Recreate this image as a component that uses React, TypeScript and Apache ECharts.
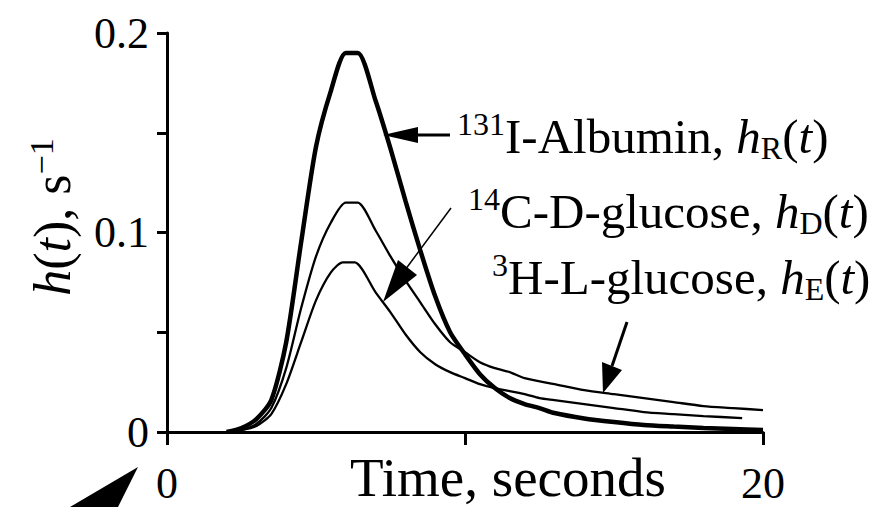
import React, { useEffect, useRef } from 'react';
import * as echarts from 'echarts';

// Time (s), h(t) (1/s)
const albuminR: [number, number][] = [
  [2.0, 0], [2.5, 0.002], [3.0, 0.0065], [3.5, 0.016], [4.0, 0.045], [4.5, 0.095],
  [5.0, 0.143], [5.5, 0.171], [6.0, 0.19], [6.4, 0.19], [7.0, 0.166], [7.5, 0.142],
  [8.0, 0.116], [8.5, 0.091], [9.0, 0.068], [9.5, 0.05], [10.0, 0.039], [10.5, 0.029],
  [11.0, 0.022], [11.5, 0.017], [12.0, 0.014], [12.5, 0.012], [13.0, 0.0095],
  [14.0, 0.0068], [15.0, 0.005], [16.0, 0.0035], [17.0, 0.0027], [18.0, 0.002],
  [19.0, 0.0015], [20.0, 0.001],
];
const dGlucoseD: [number, number][] = [
  [2.0, 0], [2.5, 0.001], [3.0, 0.003], [3.5, 0.009], [4.0, 0.024], [4.5, 0.045],
  [5.0, 0.066], [5.5, 0.08], [5.9, 0.085], [6.3, 0.085], [7.0, 0.07], [7.5, 0.06],
  [8.0, 0.049], [8.5, 0.04], [9.0, 0.034], [9.5, 0.03], [10.0, 0.027], [10.5, 0.024],
  [11.0, 0.022], [12.0, 0.019], [12.5, 0.017], [13.0, 0.016], [14.0, 0.014],
  [15.0, 0.012], [16.0, 0.01], [17.0, 0.009], [18.0, 0.008], [19.3, 0.007],
];
const lGlucoseE: [number, number][] = [
  [2.0, 0], [2.5, 0.001], [3.0, 0.004], [3.5, 0.012], [4.0, 0.032], [4.5, 0.062],
  [5.0, 0.088], [5.5, 0.105], [6.0, 0.115], [6.4, 0.115], [7.0, 0.101], [7.5, 0.088],
  [8.0, 0.076], [8.5, 0.065], [9.0, 0.054], [9.5, 0.045], [10.0, 0.04], [10.5, 0.035],
  [11.0, 0.032], [11.5, 0.03], [12.0, 0.027], [13.0, 0.024], [14.0, 0.021],
  [15.0, 0.019], [16.0, 0.017], [17.0, 0.015], [18.0, 0.013], [19.0, 0.012], [20.0, 0.011],
];

const xTickValues = [0, 20];
const xTickLabels = ['0', '20'];
const yTickValues = [0, 0.1, 0.2];
const yTickLabels = ['0', '0.1', '0.2'];

const FONT = "'Liberation Serif', 'Times New Roman', serif";

const rich = (size: number, supSize: number) => ({
  n: { fontSize: size, fontFamily: FONT, color: '#000', lineHeight: 56 },
  i: { fontSize: size, fontFamily: FONT, fontStyle: 'italic', color: '#000', lineHeight: 56 },
  sup: { fontSize: supSize, fontFamily: FONT, color: '#000', verticalAlign: 'top', lineHeight: 24 },
  sub: { fontSize: 32, fontFamily: FONT, color: '#000', verticalAlign: 'bottom', lineHeight: 22 },
});

const pick = (vals: number[], labels: string[]) => (v: number) => {
  const k = vals.findIndex((u) => Math.abs(u - v) < 1e-9);
  return k >= 0 ? labels[k] : '';
};

export default function App() {
  const ref = useRef<HTMLDivElement>(null);
  useEffect(() => {
    if (!ref.current) return;
    const chart = echarts.init(ref.current, undefined, { renderer: 'svg' });
    const lineStyleBase = { color: '#000', width: 2.3 };
    chart.setOption({
      animation: false,
      backgroundColor: '#fff',
      textStyle: { fontFamily: FONT },
      grid: { left: 167, right: 121, top: 33, bottom: 75 },
      xAxis: {
        type: 'value', min: 0, max: 20, interval: 10,
        axisLine: { lineStyle: { color: '#000', width: 3 } },
        axisTick: { length: 13, lineStyle: { color: '#000', width: 3 } },
        axisLabel: {
          formatter: pick(xTickValues, xTickLabels), fontSize: 44, lineHeight: 36, fontFamily: FONT,
          color: '#000', margin: 33, showMinLabel: true, showMaxLabel: true,
        },
        splitLine: { show: false },
      },
      yAxis: {
        type: 'value', min: 0, max: 0.2, interval: 0.05,
        axisLine: { show: true, lineStyle: { color: '#000', width: 3 } },
        axisTick: { show: true, length: 10, lineStyle: { color: '#000', width: 3 } },
        axisLabel: {
          formatter: pick(yTickValues, yTickLabels), fontSize: 44, fontFamily: FONT,
          color: '#000', margin: 18,
        },
        splitLine: { show: false },
      },
      series: [
        { type: 'line', name: 'hE', data: lGlucoseE, showSymbol: false, smooth: 0.25, lineStyle: lineStyleBase },
        { type: 'line', name: 'hD', data: dGlucoseD, showSymbol: false, smooth: 0.25, lineStyle: lineStyleBase },
        { type: 'line', name: 'hR', data: albuminR, showSymbol: false, smooth: 0.25, lineStyle: { color: '#000', width: 4.5 } },
      ],
      graphic: [
        // y axis name
        {
          type: 'text', x: 52, y: 217, rotation: Math.PI / 2,
          style: { text: '{i|h}{n|(}{i|t}{n|), s}{sup|\u22121}', rich: rich(52, 34), align: 'center', verticalAlign: 'middle' },
        },
        // x axis name
        {
          type: 'text', x: 508, y: 477,
          style: { text: 'Time, seconds', fontSize: 55, fontFamily: FONT, fill: '#000', align: 'center', verticalAlign: 'middle' },
        },
        // labels
        {
          type: 'text', x: 457, y: 136,
          style: { text: '{sup|131}{n|I-Albumin, }{i|h}{sub|R}{n|(}{i|t}{n|)}', rich: rich(49, 32), align: 'left', verticalAlign: 'middle' },
        },
        {
          type: 'text', x: 468, y: 211,
          style: { text: '{sup|14}{n|C-D-glucose, }{i|h}{sub|D}{n|(}{i|t}{n|)}', rich: rich(49, 32), align: 'left', verticalAlign: 'middle' },
        },
        {
          type: 'text', x: 492, y: 277,
          style: { text: '{sup|3}{n|H-L-glucose, }{i|h}{sub|E}{n|(}{i|t}{n|)}', rich: rich(49, 32), align: 'left', verticalAlign: 'middle' },
        },
        // arrow to albumin curve
        { type: 'line', shape: { x1: 412, y1: 135, x2: 450, y2: 135 }, style: { stroke: '#000', lineWidth: 3 } },
        { type: 'polygon', shape: { points: [[383, 135], [418, 127], [418, 143]] }, style: { fill: '#000' } },
        // arrow to D-glucose curve
        { type: 'line', shape: { x1: 405, y1: 270, x2: 451, y2: 208 }, style: { stroke: '#000', lineWidth: 1.5 } },
        { type: 'polygon', shape: { points: [[383, 302], [398, 260], [417, 275]] }, style: { fill: '#000' } },
        // arrow to L-glucose curve
        { type: 'line', shape: { x1: 612, y1: 366, x2: 627, y2: 322 }, style: { stroke: '#000', lineWidth: 3 } },
        { type: 'polygon', shape: { points: [[603, 393], [602, 362], [622, 370]] }, style: { fill: '#000' } },
        // cropped arrowhead bottom-left
        { type: 'polygon', shape: { points: [[138, 467], [70, 507], [118, 507]] }, style: { fill: '#000' } },
      ],
    });
    return () => chart.dispose();
  }, []);
  return (
    <div
      ref={ref}
      style={{ position: 'fixed', left: 0, top: 0, width: 884, height: 507, background: '#fff' }}
    />
  );
}
